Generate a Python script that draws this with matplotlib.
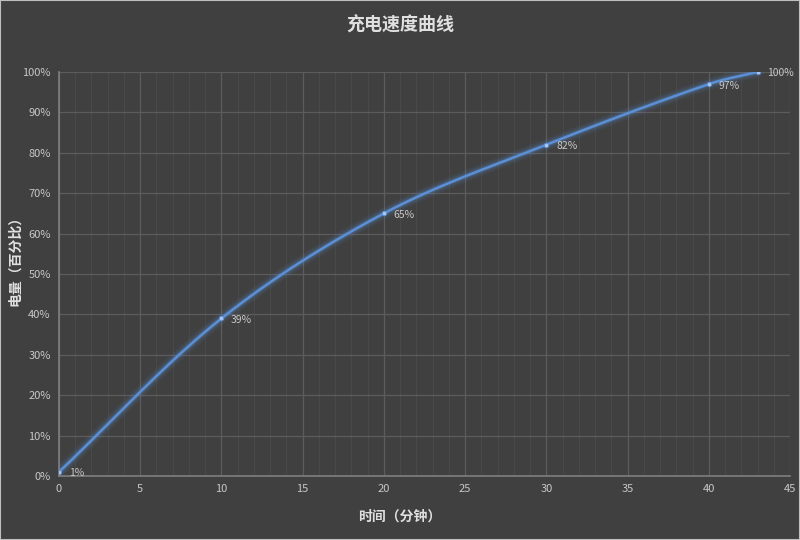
import numpy as np
import matplotlib.pyplot as plt
from matplotlib.ticker import MultipleLocator, PercentFormatter

plt.rcParams['font.family'] = ['Noto Sans CJK SC', 'DejaVu Sans']

# === 数据 ===
minutes = [0, 10, 20, 30, 40, 43]
charge = [1, 39, 65, 82, 97, 100]
point_labels = ["1%", "39%", "65%", "82%", "97%", "100%"]

BG = "#404040"
LINE = "#5b8fd6"
TXT = "#c8c8c8"


def smooth(xs, ys, n=40):
    # Excel风格的平滑线: 切线方向取相邻点连线, 长度取本段长度的 1/3
    p = np.column_stack([xs, ys]).astype(float)
    p[:, 1] *= 45 / 100 * 404 / 731  # 按屏幕比例计算长度
    m = len(p)
    tang = np.zeros_like(p)
    for i in range(m):
        a = p[max(i - 1, 0)]
        b = p[min(i + 1, m - 1)]
        d = b - a
        tang[i] = d / np.linalg.norm(d)
    t = np.linspace(0, 1, n)[:, None]
    out = []
    for i in range(m - 1):
        p0, p3 = p[i], p[i + 1]
        L = np.linalg.norm(p3 - p0) / 3
        c1 = p0 + tang[i] * L
        c2 = p3 - tang[i + 1] * L
        b = (1 - t) ** 3 * p0 + 3 * (1 - t) ** 2 * t * c1 + 3 * (1 - t) * t ** 2 * c2 + t ** 3 * p3
        out.append(b)
    out = np.vstack(out)
    out[:, 1] /= 45 / 100 * 404 / 731
    return out[:, 0], out[:, 1]


fig = plt.figure(figsize=(8, 5.4), dpi=100, facecolor=BG)
ax = fig.add_axes([59 / 800, 64 / 540, 731 / 800, 404 / 540])
ax.set_facecolor(BG)

sx, sy = smooth(minutes, charge)
# 发光效果
for lw, a in [(9, 0.05), (7, 0.07), (5, 0.1), (3.5, 0.18)]:
    ax.plot(sx, sy, color=LINE, lw=lw, alpha=a, solid_capstyle='round', zorder=3)
ax.plot(sx, sy, color=LINE, lw=1.8, zorder=4)
ax.scatter(minutes, charge, s=10, color="#a9c6f0", edgecolor=LINE, linewidth=0.6, zorder=5)

for x, y, lab in zip(minutes, charge, point_labels):
    ax.annotate(lab, (x, y), xytext=(7, -1), textcoords='offset points',
                va='center', ha='left', color=TXT, fontsize=7.5, zorder=6)

ax.set_xlim(0, 45)
ax.set_ylim(0, 100)
ax.xaxis.set_major_locator(MultipleLocator(5))
ax.xaxis.set_minor_locator(MultipleLocator(1))
ax.yaxis.set_major_locator(MultipleLocator(10))
ax.yaxis.set_major_formatter(PercentFormatter(decimals=0))

ax.grid(which='major', color='#5c5c5c', lw=0.9)
ax.grid(which='minor', axis='x', color='#494949', lw=0.8)
ax.set_axisbelow(True)

for s in ['top', 'right']:
    ax.spines[s].set_visible(False)
for s in ['left', 'bottom']:
    ax.spines[s].set_color('#7f7f7f')
    ax.spines[s].set_linewidth(1.2)

ax.tick_params(which='both', length=0, colors=TXT, labelsize=8, pad=6)

fig.text(0.5, 1 - 25 / 540, "充电速度曲线", color='#e0e0e0', fontsize=13,
         fontweight='bold', ha='center', va='center')
fig.text(0.5, 1 - 517 / 540, "时间（分钟）", color='#e0e0e0', fontsize=10,
         fontweight='bold', ha='center', va='center')
fig.text(15 / 800, 1 - 257 / 540, "电量（百分比）", color='#e0e0e0', fontsize=10,
         fontweight='bold', ha='center', va='center', rotation=90)

# 外框
fig.patches.append(plt.Rectangle((0, 0), 1, 1, transform=fig.transFigure,
                                 fill=False, edgecolor='#bfbfbf', lw=1.5))

fig.savefig("out.png", dpi=100, facecolor=BG)
